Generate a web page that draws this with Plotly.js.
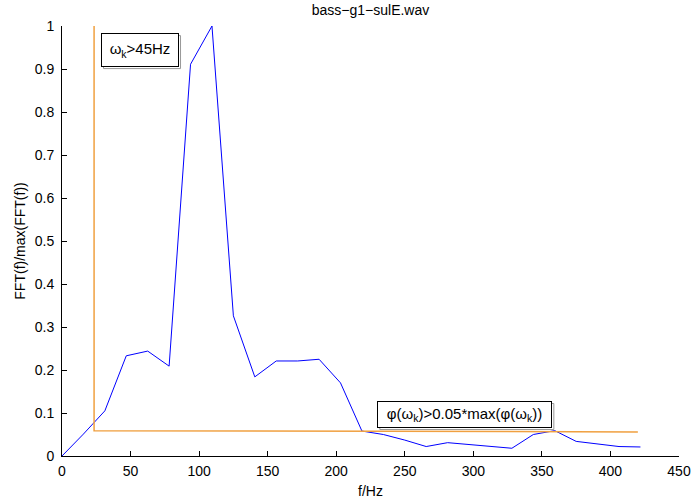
<!DOCTYPE html>
<html>
<head>
<meta charset="utf-8">
<script src="https://cdn.plot.ly/plotly-3.0.1.min.js"></script>
<style>html,body{margin:0;padding:0;background:#fff;}</style>
</head>
<body>
<div id="chart" style="width:696px;height:501px;"></div>
<script>
const freq = [0, 15.625, 31.25, 46.875, 62.5, 78.125, 93.75, 109.375, 125, 140.625, 156.25, 171.875, 187.5, 203.125, 218.75, 234.375, 250, 265.625, 281.25, 296.875, 312.5, 328.125, 343.75, 359.375, 375, 390.625, 406.25, 421.875];
const spectrum = [0, 0.051, 0.105, 0.233, 0.244, 0.209, 0.911, 1.0, 0.326, 0.184, 0.221, 0.221, 0.225, 0.17, 0.058, 0.05, 0.037, 0.022, 0.031, 0.027, 0.022, 0.018, 0.05, 0.059, 0.034, 0.028, 0.022, 0.021];
const thresholdX = [23.4, 23.4, 420];
const thresholdY = [1, 0.059, 0.056];
const titleText = 'bass\u2212g1\u2212sulE.wav';
const xLabel = 'f/Hz';
const yLabel = 'FFT(f)/max(FFT(f))';
const note1 = '\u03c9<sub>k</sub>>45Hz';
const note2 = '\u03c6(\u03c9<sub>k</sub>)>0.05*max(\u03c6(\u03c9<sub>k</sub>))';

const font = {family: 'Liberation Sans, Arial, sans-serif', size: 14, color: '#000'};

const traces = [
  {x: freq, y: spectrum, mode: 'lines', line: {color: '#0000ff', width: 1}, hoverinfo: 'none'},
  {x: thresholdX, y: thresholdY, mode: 'lines', line: {color: '#f0a040', width: 1.5}, hoverinfo: 'none'}
];

function box(x, y, text, w, h) {
  return {
    x: x, y: y, xref: 'x', yref: 'y', text: text, showarrow: false,
    width: w, height: h, align: 'center', valign: 'middle',
    font: {family: font.family, size: 15, color: '#000'},
    bgcolor: '#fff', bordercolor: '#000', borderwidth: 1, borderpad: 3
  };
}
function shadow(x, y, w, h) {
  const hw = (w + 7) / 2, hh = (h + 7) / 2;
  return {
    type: 'rect', xref: 'x', yref: 'y', xsizemode: 'pixel', ysizemode: 'pixel',
    xanchor: x, yanchor: y, x0: -hw + 2, x1: hw + 2, y0: -hh - 2, y1: hh - 2,
    line: {color: '#999', width: 1}, fillcolor: 'rgba(0,0,0,0)', layer: 'above'
  };
}

const layout = {
  width: 696, height: 501,
  margin: {l: 62, r: 17, t: 26, b: 45},
  paper_bgcolor: '#fff', plot_bgcolor: '#fff',
  font: font,
  showlegend: false,
  title: {text: titleText, font: {family: font.family, size: 14}, x: 0.5, xref: 'paper', y: 0.98, yref: 'container', yanchor: 'middle'},
  xaxis: {
    range: [0, 450], dtick: 50, tick0: 0, ticks: 'inside', ticklen: 5, tickcolor: '#000',
    showline: true, linecolor: '#000', linewidth: 1, showgrid: false, zeroline: false,
    title: {text: xLabel, font: font, standoff: 8}, tickfont: font, ticklabelstandoff: 2
  },
  yaxis: {
    range: [0, 1], dtick: 0.1, tick0: 0, ticks: 'inside', ticklen: 5, tickcolor: '#000',
    showline: true, linecolor: '#000', linewidth: 1, showgrid: false, zeroline: false,
    title: {text: yLabel, font: font, standoff: 5}, tickfont: font, ticklabelstandoff: 4
  },
  shapes: [shadow(56.9, 0.944, 70, 26), shadow(293.8, 0.0965, 167, 19)],
  annotations: [
    box(56.9, 0.944, note1, 70, 26),
    box(293.8, 0.0965, note2, 167, 19)
  ]
};

Plotly.newPlot('chart', traces, layout, {staticPlot: true, displayModeBar: false});
</script>
</body>
</html>
